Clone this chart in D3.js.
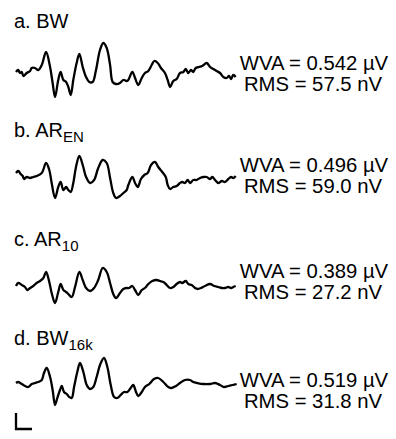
<!DOCTYPE html>
<html>
<head>
<meta charset="utf-8">
<script src="https://cdn.jsdelivr.net/npm/d3@7"></script>
<style>
  body { margin: 0; background: #fff; }
  text { font-family: "Liberation Sans", Arial, Helvetica, sans-serif; fill: #000; }
</style>
</head>
<body>
<div id="chart"></div>
<script>
// panel names, subscripts and the two measures printed on the right
const names = ['a. BW', 'b. AR', 'c. AR', 'd. BW'];
const subs = ['', 'EN', '10', '16k'];
const wva = ['0.542', '0.496', '0.389', '0.519']; // µV
const rms = ['57.5', '59.0', '27.2', '31.8'];     // nV

// time (ms) and amplitude (µV)
const tA = [0,0.14,0.25,0.36,0.46,0.67,0.88,0.98,1.19,1.39,1.61,1.88,2.13,2.29,2.44,2.64,2.79,2.96,3.13,3.27,3.42,3.58,3.79,3.96,4.17,4.38,4.58,4.79,5.00,5.25,5.46,5.67,5.88,6.04,6.25,6.50,6.71,6.92,7.02,7.27,7.44,7.64,7.86,8.06,8.27,8.48,8.64,8.86,9.06,9.31,9.48,9.63,9.83,10.04,10.25,10.46,10.61,10.77,10.94,11.08,11.23,11.44,11.64,11.92,12.13,12.33,12.54,12.75,12.96,13.17,13.31,13.44,13.58,13.73];
const vA = [0,0.02,-0.01,0,-0.04,-0.01,0.01,0.04,0.04,0.02,0.07,0.20,0.05,-0.11,-0.25,-0.08,0,-0.08,-0.10,-0.15,-0.23,-0.08,0.09,0.18,0.05,-0.05,-0.10,-0.10,0.02,0.22,0.29,0.24,0.07,-0.10,-0.12,-0.11,-0.08,-0.09,-0.08,0,-0.06,-0.13,-0.06,-0.01,0.01,0.07,0.11,0.09,0.04,-0.01,-0.08,-0.15,-0.09,-0.07,-0.01,0,0.03,-0.01,0.02,0,0.04,0.05,0.06,0.09,0.05,0.03,0.01,-0.01,-0.05,-0.06,-0.04,-0.07,-0.03,-0.05];

const tB = [0,0.14,0.29,0.42,0.50,0.67,0.88,1.08,1.29,1.61,1.88,2.08,2.23,2.44,2.64,2.79,2.96,3.13,3.27,3.42,3.58,3.75,3.96,4.17,4.38,4.63,4.88,5.14,5.42,5.67,5.88,6.08,6.25,6.50,6.71,6.92,7.02,7.27,7.44,7.61,7.81,8.02,8.23,8.44,8.69,8.89,9.14,9.36,9.48,9.63,9.83,10.04,10.25,10.39,10.56,10.73,10.88,11.08,11.29,11.50,11.71,11.92,12.13,12.27,12.44,12.64,12.86,13.06,13.27,13.44,13.58,13.73];
const vB = [0.05,0.07,0.04,0.02,-0.01,0.01,0,0.01,0.02,0.05,0.15,0.08,-0.05,-0.20,-0.09,-0.04,-0.12,-0.09,-0.12,-0.14,-0.05,0.11,0.22,0.13,0.01,-0.05,-0.02,0.10,0.18,0.15,0,-0.15,-0.20,-0.18,-0.15,-0.12,-0.07,0.01,-0.05,-0.09,-0.01,0.03,0.05,0.13,0.16,0.11,0.06,0.01,-0.07,-0.11,-0.09,-0.08,-0.05,-0.04,-0.05,-0.02,-0.05,-0.02,-0.02,0,0.01,0.01,-0.01,0.01,-0.02,-0.05,-0.03,-0.04,-0.01,0.01,0,0.02];

const tC = [0,0.14,0.36,0.56,0.71,0.88,1.08,1.29,1.50,1.71,1.88,2.08,2.23,2.44,2.64,2.79,2.96,3.13,3.27,3.48,3.69,3.96,4.17,4.38,4.63,4.88,5.14,5.42,5.67,5.88,6.08,6.25,6.50,6.71,6.92,7.06,7.27,7.44,7.64,7.86,8.06,8.27,8.52,8.79,9.00,9.21,9.42,9.63,9.83,10.04,10.25,10.39,10.61,10.77,10.98,11.19,11.36,11.56,11.81,12.13,12.39,12.64,12.86,13.06,13.27,13.44,13.58,13.73];
const vC = [0,0.03,0.01,-0.01,-0.04,-0.02,0,0.03,0.05,0.08,0.14,0.04,-0.07,-0.17,-0.06,0.02,-0.04,-0.06,-0.08,-0.11,-0.01,0.14,0.06,-0.02,-0.05,-0.02,0.06,0.18,0.14,0.03,-0.08,-0.12,-0.07,-0.03,-0.02,-0.02,0,-0.04,-0.09,-0.04,-0.02,0.02,0.05,0.06,0.05,0.04,0.01,-0.02,-0.01,0.02,0.04,0.03,0.05,0.02,0.01,-0.02,-0.03,-0.02,0,0.02,0,-0.01,-0.02,-0.02,-0.01,-0.02,-0.01,0];

const tD = [0,0.14,0.36,0.56,0.77,0.98,1.19,1.39,1.61,1.75,1.92,2.13,2.29,2.44,2.58,2.75,2.86,3.00,3.17,3.33,3.48,3.63,3.83,4.00,4.21,4.42,4.63,4.83,5.04,5.25,5.50,5.71,5.92,6.13,6.33,6.54,6.75,6.96,7.17,7.33,7.50,7.64,7.86,8.06,8.33,8.63,8.89,9.21,9.52,9.73,10.00,10.25,10.56,10.88,11.08,11.33,11.71,12.13,12.44,12.75,13.00,13.27,13.54,13.79];
const vD = [0.01,0.02,0,-0.02,-0.03,0,0.01,0.02,0.04,0.11,0.16,0.07,-0.06,-0.21,-0.14,-0.06,-0.02,-0.08,-0.10,-0.13,-0.14,-0.03,0.12,0.21,0.12,-0.01,-0.05,-0.03,0.07,0.19,0.26,0.17,-0.01,-0.13,-0.14,-0.11,-0.08,-0.08,-0.04,-0.01,-0.08,-0.12,-0.08,-0.03,0,0.05,0.06,0.02,-0.03,-0.04,-0.02,0.01,0.04,0.04,0.02,0.01,0,0,0.01,-0.01,-0.03,-0.02,-0.01,0];

const times = [tA, tB, tC, tD];
const volts = [vA, vB, vC, vD];

// scale bar: 1 ms by 0.16 µV
const barT = 1;
const barV = 0.16;

const width = 396;
const height = 439;
const baselines = [72, 178, 286, 384]; // where 0 µV sits for each panel

const svg = d3.select('#chart').append('svg')
  .attr('width', width)
  .attr('height', height);

const x = d3.scaleLinear()
  .domain([0, 13.8])
  .range([16, 236.8]);

// one y scale per panel, 100 px per µV
function yScale(i) {
  return d3.scaleLinear()
    .domain([-0.3, 0.3])
    .range([baselines[i] + 30, baselines[i] - 30]);
}

const line = (y) => d3.line()
  .x(d => x(d[0]))
  .y(d => y(d[1]))
  .curve(d3.curveCatmullRom.alpha(0.5));

const labelY = [28, 137, 246, 345];
const wvaY = [70, 172, 278, 387];

names.forEach((name, i) => {
  const y = yScale(i);
  const pts = times[i].map((t, k) => [t, volts[i][k]]);

  svg.append('path')
    .datum(pts)
    .attr('d', line(y))
    .style('fill', 'none')
    .style('stroke', '#000')
    .style('stroke-width', 2.3)
    .style('stroke-linejoin', 'round');

  // panel label with subscript
  const lab = svg.append('text')
    .attr('x', 14)
    .attr('y', labelY[i])
    .style('font-size', '20px')
    .text(name);
  if (subs[i]) {
    lab.append('tspan')
      .attr('dy', 5)
      .style('font-size', '15px')
      .text(subs[i]);
  }

  // measures on the right
  svg.append('text')
    .attr('x', 314)
    .attr('y', wvaY[i])
    .attr('text-anchor', 'middle')
    .style('font-size', '20.3px')
    .text('WVA = ' + wva[i] + ' \u00b5V');
  svg.append('text')
    .attr('x', 313)
    .attr('y', wvaY[i] + 21)
    .attr('text-anchor', 'middle')
    .style('font-size', '20.3px')
    .text('RMS = ' + rms[i] + ' nV');
});

// scale bar under the last trace
const yBar = d3.scaleLinear()
  .domain([0, 1])
  .range([429, 329]);
const bar = [[0, barV], [0, 0], [barT, 0]];
svg.append('path')
  .datum(bar)
  .attr('d', d3.line().x(d => x(d[0])).y(d => yBar(d[1])))
  .style('fill', 'none')
  .style('stroke', '#000')
  .style('stroke-width', 2.3);
</script>
</body>
</html>
